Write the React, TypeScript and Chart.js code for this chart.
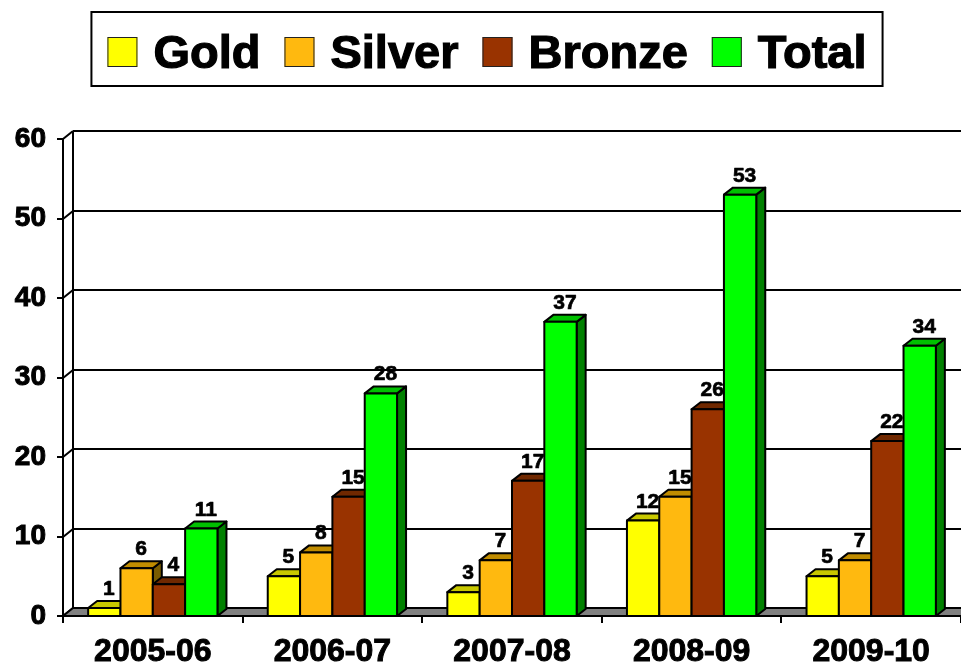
import React, { useEffect, useRef } from "react";
import { Chart, registerables } from "chart.js";

Chart.register(...registerables);

const seasons = ["2005-06", "2006-07", "2007-08", "2008-09", "2009-10"];
const seriesNames = ["Gold", "Silver", "Bronze", "Total"];
const goldMedals = [1, 5, 3, 12, 5];
const silverMedals = [6, 8, 7, 15, 7];
const bronzeMedals = [4, 15, 17, 26, 22];
const totalMedals = [11, 28, 37, 53, 34];
const yMin = 0;
const yMax = 60;
const yStep = 10;

const FRONT = ["#FFFF00", "#FFB90F", "#993300", "#00FF00"];
const TOP = ["#C8C800", "#C08C00", "#702800", "#00C000"];
const SIDE = ["#8C8C00", "#7A5C00", "#5A1E00", "#008000"];

const FONT = "Arial, 'Liberation Sans', sans-serif";
const WALL_DX = 10;
const WALL_DY = 8;
const BAR_DX = 9;
const BAR_DY = 7;

const threeDPlugin = {
  id: "threeD",
  beforeDatasetsDraw(chart: any) {
    const ctx = chart.ctx as CanvasRenderingContext2D;
    const area = chart.chartArea;
    const y = chart.scales.y;
    ctx.save();
    ctx.strokeStyle = "#000";
    ctx.lineWidth = 2;
    ctx.lineCap = "butt";
    for (let v = yMin; v <= yMax; v += yStep) {
      const py = Math.round(y.getPixelForValue(v));
      ctx.beginPath();
      ctx.moveTo(area.left + WALL_DX, py - WALL_DY);
      ctx.lineTo(area.right + WALL_DX + 20, py - WALL_DY);
      ctx.stroke();
      ctx.beginPath();
      ctx.moveTo(area.left - 6, py);
      ctx.lineTo(area.left, py);
      ctx.lineTo(area.left + WALL_DX, py - WALL_DY);
      ctx.stroke();
    }
    const top = Math.round(y.getPixelForValue(yMax));
    const bottom = Math.round(y.getPixelForValue(yMin));
    ctx.beginPath();
    ctx.moveTo(area.left + WALL_DX, top - WALL_DY);
    ctx.lineTo(area.left + WALL_DX, bottom - WALL_DY);
    ctx.stroke();
    ctx.beginPath();
    ctx.moveTo(area.left, bottom);
    ctx.lineTo(area.right + 20, bottom);
    ctx.lineTo(area.right + 20 + WALL_DX, bottom - WALL_DY);
    ctx.lineTo(area.left + WALL_DX, bottom - WALL_DY);
    ctx.closePath();
    ctx.fillStyle = "#808080";
    ctx.fill();
    ctx.stroke();
    ctx.beginPath();
    ctx.moveTo(area.left, top);
    ctx.lineTo(area.left, bottom);
    ctx.stroke();
    const n = seasons.length;
    const catW = (area.right - area.left) / n;
    for (let k = 0; k <= n; k++) {
      const px = Math.round(area.left + k * catW);
      ctx.beginPath();
      ctx.moveTo(px, bottom);
      ctx.lineTo(px, bottom + 7);
      ctx.stroke();
    }
    ctx.restore();
  },
  afterDatasetsDraw(chart: any) {
    const ctx = chart.ctx as CanvasRenderingContext2D;
    const nCat = seasons.length;
    const nSer = chart.data.datasets.length;
    ctx.save();
    ctx.lineWidth = 2;
    ctx.lineJoin = "round";
    ctx.strokeStyle = "#000";
    for (let j = 0; j < nCat; j++) {
      for (let i = 0; i < nSer; i++) {
        const el = chart.getDatasetMeta(i).data[j];
        const w = el.width;
        const l = el.x - w / 2;
        const r = el.x + w / 2;
        const t = el.y;
        const b = el.base;
        ctx.beginPath();
        ctx.moveTo(r, t);
        ctx.lineTo(r + BAR_DX, t - BAR_DY);
        ctx.lineTo(r + BAR_DX, b - BAR_DY);
        ctx.lineTo(r, b);
        ctx.closePath();
        ctx.fillStyle = SIDE[i];
        ctx.fill();
        ctx.stroke();
        ctx.beginPath();
        ctx.moveTo(l, t);
        ctx.lineTo(l + BAR_DX, t - BAR_DY);
        ctx.lineTo(r + BAR_DX, t - BAR_DY);
        ctx.lineTo(r, t);
        ctx.closePath();
        ctx.fillStyle = TOP[i];
        ctx.fill();
        ctx.stroke();
        ctx.beginPath();
        ctx.rect(l, t, w, b - t);
        ctx.fillStyle = FRONT[i];
        ctx.fill();
        ctx.stroke();
      }
    }
    ctx.fillStyle = "#000";
    ctx.strokeStyle = "#000";
    ctx.lineWidth = 0.7;
    ctx.font = `bold 21px ${FONT}`;
    ctx.textAlign = "center";
    ctx.textBaseline = "alphabetic";
    for (let i = 0; i < nSer; i++) {
      const meta = chart.getDatasetMeta(i);
      const vals = chart.data.datasets[i].data;
      meta.data.forEach((el: any, j: number) => {
        const tx = el.x + BAR_DX / 2;
        const ty = el.y - 13;
        ctx.fillText(String(vals[j]), tx, ty);
        ctx.strokeText(String(vals[j]), tx, ty);
      });
    }
    ctx.restore();
  },
  afterDraw(chart: any) {
    const ctx = chart.ctx as CanvasRenderingContext2D;
    ctx.save();
    ctx.font = `bold 47px ${FONT}`;
    const box = 30;
    const gapText = 16;
    const gapItem = 24;
    const pad = 16;
    const names = chart.data.datasets.map((d: any) => d.label);
    const widths = names.map((s: string) => ctx.measureText(s).width);
    let total = 0;
    widths.forEach((wd: number, k: number) => {
      total += box + gapText + wd + (k > 0 ? gapItem : 0);
    });
    const cx = 487;
    const bx = cx - total / 2 - pad;
    const bw = total + 2 * pad;
    const by = 12;
    const bh = 74;
    ctx.lineWidth = 2;
    ctx.strokeStyle = "#000";
    ctx.strokeRect(bx, by, bw, bh);
    let px = bx + pad;
    ctx.textAlign = "left";
    ctx.textBaseline = "alphabetic";
    names.forEach((s: string, k: number) => {
      ctx.fillStyle = FRONT[k];
      ctx.fillRect(px, 37, box, box);
      ctx.lineWidth = 1;
      ctx.strokeStyle = "#222";
      ctx.strokeRect(px + 0.5, 37.5, box - 1, box - 1);
      ctx.fillStyle = "#000";
      ctx.strokeStyle = "#000";
      ctx.lineWidth = 1.2;
      ctx.fillText(s, px + box + gapText, 68);
      ctx.strokeText(s, px + box + gapText, 68);
      px += box + gapText + widths[k] + gapItem;
    });
    ctx.restore();
  },
};

export default function App() {
  const ref = useRef<HTMLCanvasElement | null>(null);
  useEffect(() => {
    if (!ref.current) return;
    const series = [goldMedals, silverMedals, bronzeMedals, totalMedals];
    const chart = new Chart(ref.current, {
      type: "bar",
      data: {
        labels: seasons,
        datasets: series.map((d, i) => ({
          label: seriesNames[i],
          data: d,
          backgroundColor: "rgba(0,0,0,0)",
          borderWidth: 0,
          categoryPercentage: 0.72,
          barPercentage: 1.0,
        })),
      },
      options: {
        responsive: false,
        animation: false,
        devicePixelRatio: 1,
        layout: { padding: { top: 139, right: 0, left: 0, bottom: 0 } },
        plugins: {
          legend: { display: false },
          tooltip: { enabled: false },
        },
        scales: {
          x: {
            grid: { display: false, drawTicks: false },
            border: { display: false },
            ticks: {
              color: "#000",
              font: { family: FONT, size: 32, weight: "bold" },
              padding: 17,
              maxRotation: 0,
              textStrokeColor: "#000",
              textStrokeWidth: 1,
            },
            afterFit: (s: any) => {
              s.height = 49;
            },
          },
          y: {
            min: yMin,
            max: yMax,
            grid: { display: false, drawTicks: false },
            border: { display: false },
            ticks: {
              stepSize: yStep,
              color: "#000",
              font: { family: FONT, size: 28, weight: "bold" },
              padding: 17,
              textStrokeColor: "#000",
              textStrokeWidth: 1,
            },
            afterFit: (s: any) => {
              s.width = 63;
            },
          },
        },
      },
      plugins: [threeDPlugin],
    });
    return () => chart.destroy();
  }, []);
  return (
    <div style={{ position: "absolute", left: 0, top: 0, width: 961, height: 665, background: "#fff" }}>
      <canvas ref={ref} width={961} height={665} style={{ display: "block" }} />
    </div>
  );
}
